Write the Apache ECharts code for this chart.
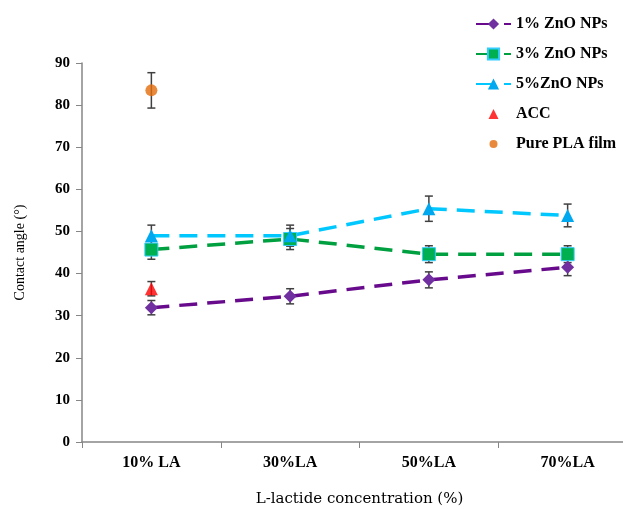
<!DOCTYPE html>
<html><head><meta charset="utf-8">
<script src="https://cdn.jsdelivr.net/npm/echarts@6/dist/echarts.min.js"></script>
<style>html,body{margin:0;padding:0;background:#fff}#c{width:623px;height:509px}</style>
</head><body><div id="c"></div>
<script>
const categories = ['10% LA', '30%LA', '50%LA', '70%LA'];
const yTicks = [0, 10, 20, 30, 40, 50, 60, 70, 80, 90];
const zno1 = [31.9, 34.6, 38.5, 41.5];
const zno1Err = [1.7, 1.8, 1.9, 2.0];
const zno3 = [45.7, 48.2, 44.6, 44.6];
const zno3Err = [2.3, 2.5, 2.0, 2.0];
const zno5 = [49.0, 49.0, 55.4, 53.8];
const zno5Err = [2.5, 2.5, 3.0, 2.7];
const accCat = ['10% LA'];
const acc = [36.4];
const accErr = [1.7];
const plaCat = ['10% LA'];
const pla = [83.5];
const plaErr = [4.2];

const serif = '"Liberation Serif", "DejaVu Serif", serif';

function errData(cats, vals, errs) {
  return vals.map((v, i) => [categories.indexOf(cats[i]), v - errs[i], v + errs[i]]);
}
function errSeries(data) {
  return {
    type: 'custom', z: 1, silent: true,
    renderItem: function (params, api) {
      const x = api.value(0);
      const lo = api.coord([x, api.value(1)]);
      const hi = api.coord([x, api.value(2)]);
      const hw = 4;
      const st = { stroke: '#404040', lineWidth: 1.5 };
      return { type: 'group', children: [
        { type: 'line', shape: { x1: lo[0], y1: lo[1], x2: hi[0], y2: hi[1] }, style: st },
        { type: 'line', shape: { x1: lo[0] - hw, y1: lo[1], x2: lo[0] + hw, y2: lo[1] }, style: st },
        { type: 'line', shape: { x1: hi[0] - hw, y1: hi[1], x2: hi[0] + hw, y2: hi[1] }, style: st }
      ]};
    },
    encode: { x: 0, y: [1, 2] },
    data: data
  };
}

const chart = echarts.init(document.getElementById('c'), null, { renderer: 'canvas' });
chart.setOption({
  animation: false,
  backgroundColor: '#ffffff',
  textStyle: { fontFamily: serif },
  legend: {
    orient: 'vertical', left: 470, top: 11, itemGap: 14, itemWidth: 35, itemHeight: 14,
    textStyle: { fontFamily: serif, fontSize: 16, fontWeight: 'bold', color: '#000' },
    data: [
      '1% ZnO NPs', '3% ZnO NPs', '5%ZnO NPs',
      { name: 'ACC', icon: 'path://M0,0 M14,14 M2,12 L7,2 L12,12 Z' },
      { name: 'Pure PLA film', icon: 'path://M0,0 M14,14 M3,7 A4,4 0 1,1 11,7 A4,4 0 1,1 3,7 Z' }
    ]
  },
  grid: { left: 82, right: -14, top: 63, bottom: 67, containLabel: false, outerBoundsMode: 'none' },
  xAxis: {
    type: 'category', data: categories, boundaryGap: true,
    name: 'L-lactide concentration (%)', nameLocation: 'middle', nameGap: 50,
    nameTextStyle: { fontFamily: '"DejaVu Serif", serif', fontSize: 15, color: '#000' },
    axisLine: { lineStyle: { color: '#868686', width: 1.5 } },
    axisTick: { show: true, length: 6, alignWithLabel: false, lineStyle: { color: '#868686' } },
    axisLabel: { fontFamily: serif, fontSize: 16, fontWeight: 'bold', color: '#000', margin: 13 },
    splitLine: { show: false }
  },
  yAxis: {
    type: 'value', min: yTicks[0], max: yTicks[yTicks.length - 1], interval: 10,
    name: 'Contact angle (°)', nameLocation: 'middle', nameGap: 55, nameRotate: 90,
    nameTextStyle: { fontFamily: serif, fontSize: 14, color: '#000' },
    axisLine: { show: true, lineStyle: { color: '#868686', width: 1.5 } },
    axisTick: { show: true, length: 6, inside: false, lineStyle: { color: '#868686' } },
    axisLabel: { fontFamily: serif, fontSize: 15, fontWeight: 'bold', color: '#000', margin: 12 },
    splitLine: { show: false }
  },
  series: [
    errSeries(errData(categories, zno1, zno1Err)),
    errSeries(errData(categories, zno3, zno3Err)),
    errSeries(errData(categories, zno5, zno5Err)),
    errSeries(errData(accCat, acc, accErr)),
    errSeries(errData(plaCat, pla, plaErr)),
    {
      name: '1% ZnO NPs', type: 'line', z: 3, data: zno1,
      symbol: 'diamond', symbolSize: 13,
      itemStyle: { color: '#7030A0' },
      lineStyle: { color: '#680A8C', width: 3.5, type: [18, 10] }
    },
    {
      name: '3% ZnO NPs', type: 'line', z: 3, data: zno3,
      symbol: 'rect', symbolSize: 13,
      itemStyle: { color: '#00B050', borderColor: '#33CCFF', borderWidth: 1 },
      lineStyle: { color: '#00A040', width: 3.5, type: [18, 10] }
    },
    {
      name: '5%ZnO NPs', type: 'line', z: 3, data: zno5,
      symbol: 'triangle', symbolSize: 13,
      itemStyle: { color: '#00A8F0' },
      lineStyle: { color: '#00C8FF', width: 3.5, type: [18, 10] }
    },
    {
      name: 'ACC', type: 'scatter', z: 4,
      data: acc.map((v, i) => [accCat[i], v]),
      symbol: 'triangle', symbolSize: 13,
      itemStyle: { color: '#FF0000' }
    },
    {
      name: 'Pure PLA film', type: 'scatter', z: 4,
      data: pla.map((v, i) => [plaCat[i], v]),
      symbol: 'circle', symbolSize: 12,
      itemStyle: { color: '#E46C0A' }
    }
  ]
});
</script></body></html>
